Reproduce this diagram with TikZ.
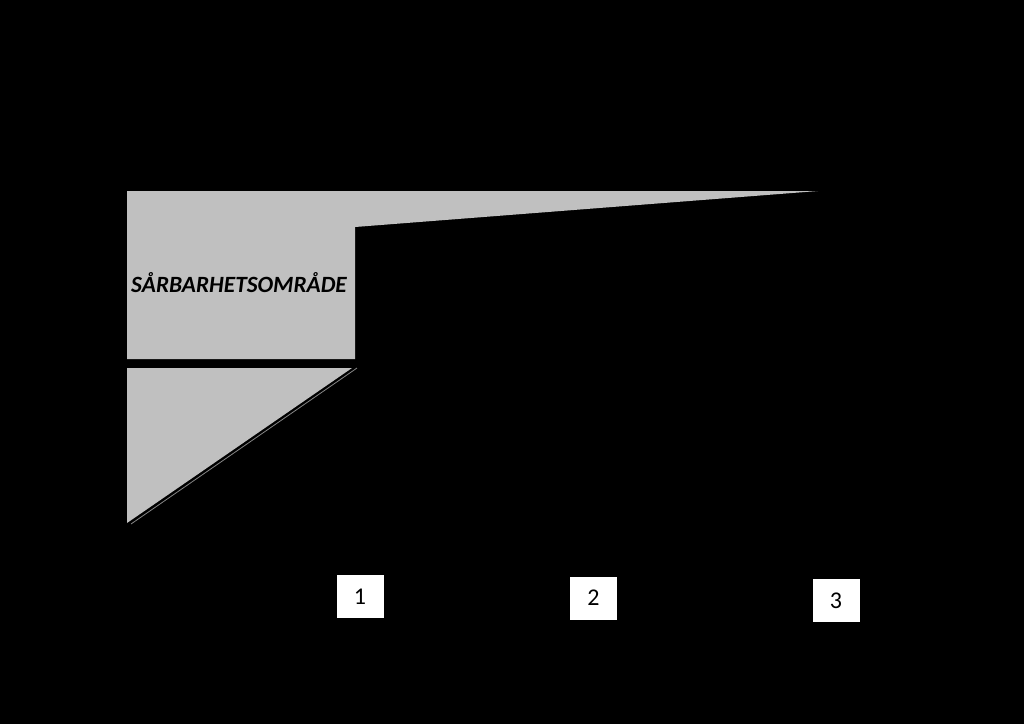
\documentclass[tikz,border=0pt]{standalone}
\usepackage{fontspec}
\setmainfont{Carlito}
\begin{document}
\begin{tikzpicture}[x=1pt,y=-1pt,
  zone/.style={fill=zonegray,draw=none},
  numbox/.style={fill=white,draw=none,minimum width=47pt,minimum height=43pt,inner sep=0pt,font=\fontsize{24}{26}\selectfont}]
\definecolor{zonegray}{HTML}{C0C0C0}
\fill[black] (0,0) rectangle (1024,724);
\useasboundingbox (0,0) rectangle (1024,724);
% upper vulnerability area
\path[zone] (127,191) -- (818,191) -- (355,227) -- (355,359) -- (127,359) -- cycle;
% lower triangle
\path[zone] (127,368) -- (352,368) -- (127,523) -- cycle;
\draw[zonegray!70!black,line width=0.8pt] (357,368) -- (131,524);
\node[font=\fontsize{23.3}{26}\selectfont\bfseries\itshape] (lbl) at (239,283) {SÅRBARHETSOMRÅDE};
\node[numbox] (n1) at (360,596.5) {1};
\node[numbox] (n2) at (593.5,598) {2};
\node[numbox] (n3) at (836,600.5) {3};
\end{tikzpicture}
\end{document}
